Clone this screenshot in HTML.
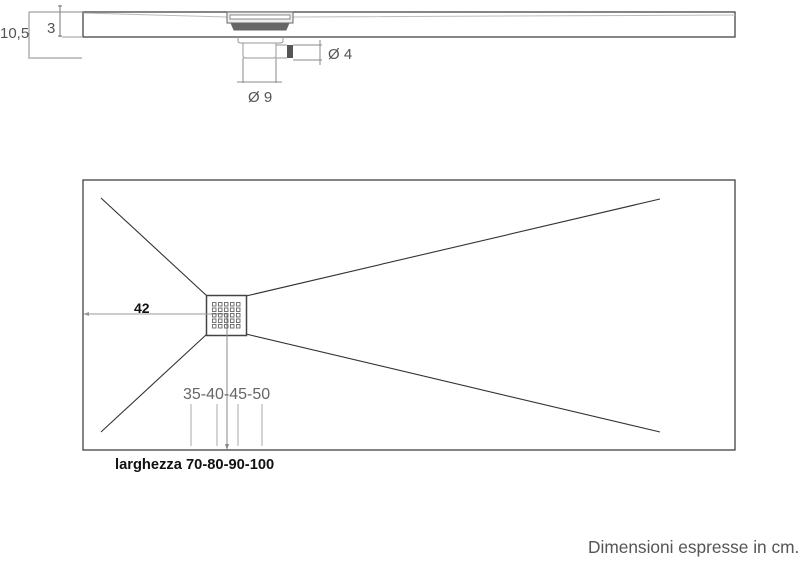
<!DOCTYPE html>
<html><head><style>body{margin:0;background:#fff}svg{display:block}</style></head><body>
<svg width="800" height="565" viewBox="0 0 800 565" xmlns="http://www.w3.org/2000/svg" font-family="Liberation Sans, sans-serif">
<g stroke="#555" fill="none" stroke-width="1">
<rect x="83" y="12" width="652" height="25" stroke="#444" stroke-width="1.3"/>
<path d="M83 13 L227 17 M293 17 L735 15" stroke="#bbb"/>
<rect x="227" y="12" width="66" height="11" fill="#eee" stroke="#666"/>
<rect x="230" y="15" width="60" height="4" fill="#fff" stroke="#888"/>
<path d="M231 23 L289 23 L286 30 L234 30 Z" fill="#666" stroke="#666"/>
<path d="M238 37 L238 41 Q238 43 241 43 L280 43 Q283 43 283 41 L283 37" stroke="#999"/>
<path d="M243 43 L243 56 Q243 58 246 58 L273 58 Q276 58 276 56 L276 43" stroke="#999"/>
<path d="M276 45 L287 45 M276 58 L287 58" stroke="#999"/>
<rect x="287" y="45" width="6" height="13" fill="#555" stroke="none"/>
<path d="M60 5 L60 37 M58 6 L62 6 M58 36 L62 36" stroke="#777"/>
<path d="M62 37 L83 37" stroke="#999"/>
<path d="M29 12 L29 57 M29 12 L83 12 M28 58 L82 58" stroke="#888"/>
<path d="M293 45 L322 45 M293 60 L322 60 M320 40 L320 65" stroke="#888"/>
<path d="M243 58 L243 83 M276 58 L276 83 M237 82 L282 82" stroke="#888"/>
<rect x="83" y="180" width="652" height="270" stroke="#333" stroke-width="1.2"/>
<path d="M101 198 L207 296 M101 432 L207 334 M246 296 L660 199 M246 334 L660 432" stroke="#333" stroke-width="1.1"/>
<rect x="206.5" y="295.5" width="40" height="40" stroke="#444" stroke-width="1.5" fill="#fff"/>
<path d="M87 314 L228 314" stroke="#999"/>
<path d="M83 314 L89 312 L89 316 Z" fill="#999" stroke="none"/>
<path d="M227 314 L227 446" stroke="#888"/>
<path d="M227 450 L225 444 L229 444 Z" fill="#888" stroke="none"/>
<path d="M191 404 L191 446 M217 404 L217 446 M238 404 L238 446 M262 404 L262 446" stroke="#aaa"/>
</g>
<g fill="none" stroke="#666" stroke-width="0.9">
<g id="r">
<rect x="212.5" y="302.5" width="3.5" height="3.5"/><rect x="218.5" y="302.5" width="3.5" height="3.5"/><rect x="224.5" y="302.5" width="3.5" height="3.5"/><rect x="230.5" y="302.5" width="3.5" height="3.5"/><rect x="236.5" y="302.5" width="3.5" height="3.5"/>
</g>
<use href="#r" y="5.5"/><use href="#r" y="11"/><use href="#r" y="16.5"/><use href="#r" y="22"/>
</g>
<g fill="#444">
<text x="47" y="33" font-size="15" fill="#555">3</text>
<text x="0" y="38" font-size="15" fill="#555">10,5</text>
<text x="328" y="59" font-size="15" fill="#555">Ø 4</text>
<text x="248" y="102" font-size="15" fill="#555">Ø 9</text>
<text x="134" y="313" font-size="14" font-weight="bold" fill="#111">42</text>
<text x="183" y="399" font-size="16" fill="#666">35-40-45-50</text>
<text x="115" y="469" font-size="14.7" font-weight="bold" fill="#111">larghezza 70-80-90-100</text>
<text x="588" y="553" font-size="17.3" fill="#555">Dimensioni espresse in cm.</text>
</g>
</svg>
</body></html>
